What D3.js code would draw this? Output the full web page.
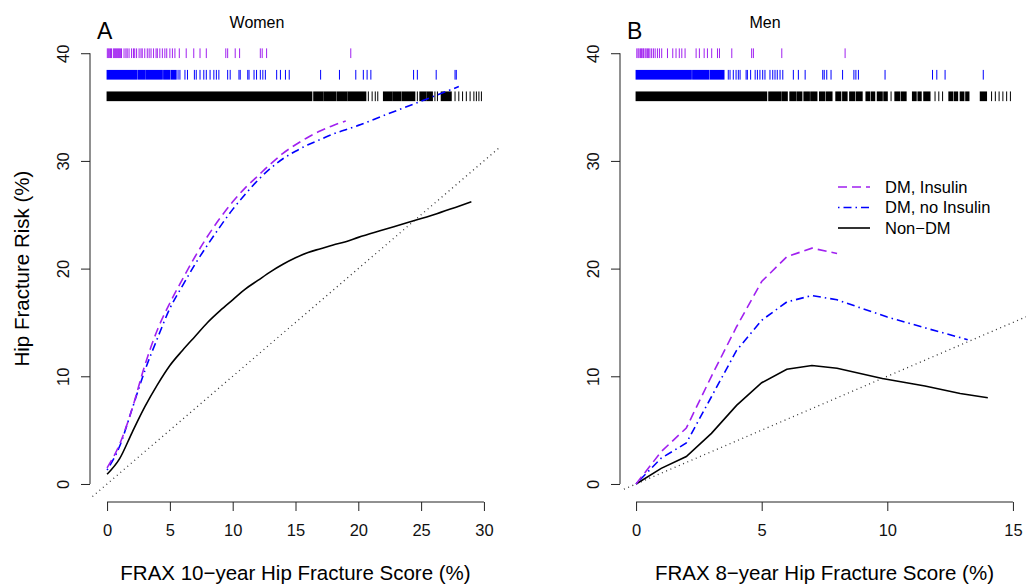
<!DOCTYPE html>
<html>
<head>
<meta charset="utf-8">
<script src="https://cdn.jsdelivr.net/npm/d3@7"></script>
<style>
    body { margin: 0; background: #fff; }
    svg { font-family: "Liberation Sans", Arial, sans-serif; }
    .axis text { font-size: 16.5px; fill: #111; }
    .axis path, .axis line { stroke: #222; }
</style>
</head>
<body>
<div class="graph"></div>
<script>
// ---- data ----
// panel A: women, x = FRAX 10-year score
const womenX = [0, 1, 2, 3, 4, 5, 6, 7, 8, 9, 10, 11, 12, 13, 14, 15, 16, 17, 18, 19, 20, 22, 24, 26, 28, 29];
const womenInsulin = [1.5, 3.7, 7.0, 11.0, 14.3, 16.8, 19.0, 21.1, 23.0, 24.7, 26.2, 27.5, 28.6, 29.7, 30.7, 31.5, 32.2, 32.8, 33.3, 33.7];
const womenNoInsulin = [1.3, 3.5, 7.0, 10.5, 13.5, 16.3, 18.4, 20.4, 22.2, 23.9, 25.5, 26.9, 28.2, 29.3, 30.2, 30.9, 31.5, 32.0, 32.5, 32.9, 33.3, 34.2, 35.1, 36.0, 36.9];
const womenNonDm = [0.9, 2.35, 4.8, 7.15, 9.2, 11.0, 12.4, 13.7, 15.0, 16.1, 17.1, 18.1, 18.9, 19.7, 20.4, 21.0, 21.5, 21.85, 22.2, 22.5, 22.9, 23.6, 24.3, 25.0, 25.8, 26.2];
// panel B: men, x = FRAX 8-year score
const menX = [0, 1, 2, 3, 4, 5, 6, 7, 8, 10, 11.5, 13.2, 14];
const menInsulin = [0, 3.0, 5.2, 10.0, 14.6, 18.8, 21.1, 21.9, 21.4];
const menNoInsulin = [0, 2.4, 3.8, 8.1, 12.4, 15.2, 16.9, 17.5, 17.1, 15.5, 14.5, 13.4];
const menNonDm = [0, 1.45, 2.55, 4.7, 7.3, 9.4, 10.65, 11.0, 10.75, 9.8, 9.1, 8.4, 8.0];
const menNonDmX = [0, 1, 2, 3, 4, 5, 6, 7, 8, 9.8, 11.5, 12.9, 14];

// rug marks (observed scores); bands are stretches so dense they print solid
const rugWomenInsulin = [0.02, 0.1, 0.18, 0.27, 0.35, 0.5, 0.58, 0.66, 0.74, 0.82, 0.9, 0.98, 1.06, 1.15, 1.35, 1.5, 1.6, 1.75, 1.95, 2.1, 2.2, 2.35, 2.55, 2.7, 2.8, 3.0, 3.2, 3.35, 3.5, 3.7, 3.9, 4.0, 4.2, 4.4, 4.6, 4.75, 5.0, 5.2, 5.4, 5.75, 6.3, 6.9, 7.4, 7.9, 9.45, 9.6, 10.2, 10.55, 12.2, 12.35, 12.7, 19.4];
const rugWomenNoInsulinBands = [[0, 2.35], [2.45, 3.0], [3.08, 4.4], [4.5, 5.0], [5.1, 5.5]];
const rugWomenNoInsulin = [5.65, 5.8, 6.2, 6.4, 6.95, 7.1, 7.4, 7.7, 7.9, 8.2, 8.5, 8.7, 8.9, 9.6, 9.8, 10.5, 10.6, 11.2, 11.3, 11.7, 11.9, 12.2, 12.4, 12.6, 13.5, 13.8, 14.2, 14.5, 17.0, 18.5, 19.8, 20.4, 20.7, 21.0, 24.4, 24.7, 26.2, 27.7, 27.8];
const rugWomenNonDmBands = [[0, 16.3], [16.45, 17.2], [17.28, 18.2], [18.3, 19.1], [19.18, 20.6], [22.0, 22.7], [22.78, 23.4], [23.5, 24.5], [24.9, 25.4], [25.48, 25.9], [26.6, 27.4]];
const rugWomenNonDm = [20.8, 21.1, 21.35, 21.55, 24.7, 26.1, 26.3, 27.7, 28.0, 28.3, 28.6, 28.9, 29.2, 29.4, 29.6, 29.8];

const rugMenInsulin = [0.03, 0.08, 0.12, 0.18, 0.22, 0.27, 0.3, 0.36, 0.4, 0.45, 0.5, 0.55, 0.62, 0.69, 0.76, 0.85, 0.93, 1.02, 1.25, 1.46, 1.59, 1.72, 1.82, 1.95, 2.39, 2.52, 2.71, 2.84, 3.01, 3.24, 3.32, 3.81, 4.6, 4.67, 5.8, 8.32];
const rugMenNoInsulinBands = [[0, 2.2], [2.25, 2.9], [2.95, 3.5]];
const rugMenNoInsulin = [3.67, 3.74, 3.87, 3.98, 4.07, 4.14, 4.38, 4.43, 4.56, 4.74, 4.83, 4.93, 5.04, 5.13, 5.33, 5.44, 5.53, 5.62, 5.73, 5.84, 6.26, 6.46, 6.73, 7.43, 7.49, 7.59, 7.76, 8.22, 8.67, 8.75, 8.85, 9.91, 11.8, 11.97, 12.3, 13.82];
const rugMenNonDmBands = [[0, 5.2], [5.28, 5.75], [5.8, 6.02], [6.12, 6.35], [6.4, 6.6], [6.68, 6.9], [6.95, 7.2], [7.3, 7.5], [7.56, 7.8], [7.95, 8.15], [8.22, 8.4], [8.5, 8.7], [8.76, 9.0], [9.15, 9.3], [9.36, 9.5], [9.6, 9.8], [9.86, 10.0], [10.3, 10.5], [10.56, 10.75], [11.0, 11.15], [11.22, 11.35], [11.45, 11.7], [12.45, 12.6], [12.66, 12.8], [12.9, 13.05], [13.12, 13.25], [13.7, 13.95]];
const rugMenNonDm = [10.15, 11.9, 12.05, 12.2, 14.15, 14.3, 14.45, 14.6, 14.75, 14.9];

const yTicks = [0, 10, 20, 30, 40];
const womenXTicks = [0, 5, 10, 15, 20, 25, 30];
const menXTicks = [0, 5, 10, 15];
const seriesNames = ["DM, Insulin", "DM, no Insulin", "Non\u2212DM"];

(function () {
    const width = 1026, height = 587;
    const purple = "#a020f0", blue = "#0000ff", black = "#000";
    const dashInsulin = "9,5", dashNoInsulin = "1.5,4,8,4";

    const svg = d3.select(".graph").append("svg")
        .attr("width", width)
        .attr("height", height);

    const y = d3.scaleLinear().domain([-1.6, 41.6]).range([501.2, 36]);

    function panel(opt) {
        const x = d3.scaleLinear().domain(opt.xDomain).range(opt.xRange);
        const g = svg.append("g");
        const clipId = "clip" + opt.letter;
        svg.append("clipPath").attr("id", clipId)
            .append("rect")
            .attr("x", opt.xRange[0]).attr("y", 36)
            .attr("width", opt.xRange[1] - opt.xRange[0]).attr("height", 465.2);

        // x axis
        const xMax = opt.xTicks[opt.xTicks.length - 1];
        const gx = g.append("g").attr("class", "axis")
            .attr("transform", "translate(0,502)")
            .call(d3.axisBottom(x).tickValues(opt.xTicks).tickSize(9).tickSizeOuter(0).tickPadding(13));
        gx.select(".domain").attr("d", "M" + x(0) + ",0H" + x(xMax));

        // y axis
        const gy = g.append("g").attr("class", "axis")
            .attr("transform", "translate(" + opt.yAxisX + ",0)")
            .call(d3.axisLeft(y).tickValues(yTicks).tickSize(9).tickSizeOuter(0));
        gy.select(".domain").attr("d", "M0," + y(0) + "V" + y(40));
        gy.selectAll(".tick text")
            .attr("x", null).attr("dy", null)
            .attr("text-anchor", "middle")
            .attr("transform", "translate(-21,0) rotate(-90)");

        // identity reference line
        g.append("line")
            .attr("clip-path", "url(#" + clipId + ")")
            .attr("x1", x(-2)).attr("y1", y(-2))
            .attr("x2", x(45)).attr("y2", y(45))
            .attr("stroke", "#333").attr("stroke-width", 1.3)
            .attr("stroke-dasharray", "1,3.6");

        // rugs
        function rug(values, bands, level, color) {
            const rg = g.append("g");
            rg.selectAll("rect").data(bands).enter().append("rect")
                .attr("x", d => x(d[0]) - 0.5)
                .attr("width", d => x(d[1]) - x(d[0]) + 1)
                .attr("y", y(level + 0.45))
                .attr("height", y(level - 0.45) - y(level + 0.45))
                .attr("fill", color);
            rg.selectAll("line").data(values).enter().append("line")
                .attr("x1", d => x(d)).attr("x2", d => x(d))
                .attr("y1", y(level + 0.45)).attr("y2", y(level - 0.45))
                .attr("stroke", color).attr("stroke-width", 1);
        }
        rug(opt.rugInsulin, [], 40, purple);
        rug(opt.rugNoInsulin, opt.rugNoInsulinBands, 38, blue);
        rug(opt.rugNonDm, opt.rugNonDmBands, 36, black);

        // fitted curves
        const line = d3.line().x(d => x(d[0])).y(d => y(d[1])).curve(opt.curve);
        function curve(xs, ys, color, dash, w) {
            g.append("path")
                .datum(ys.map((v, i) => [xs[i], v]))
                .attr("d", line)
                .attr("fill", "none")
                .attr("stroke", color)
                .attr("stroke-width", w)
                .attr("stroke-dasharray", dash);
        }
        curve(opt.nonDmX, opt.nonDm, black, null, 1.6);
        curve(opt.xs, opt.noInsulin, blue, dashNoInsulin, 1.6);
        curve(opt.xs, opt.insulin, purple, dashInsulin, 1.6);

        // titles
        g.append("text").attr("x", opt.titleX).attr("y", 28)
            .attr("text-anchor", "middle").style("font-size", "16px")
            .text(opt.title);
        g.append("text").attr("x", opt.letterX).attr("y", 39)
            .style("font-size", "23px").text(opt.letter);
        g.append("text").attr("x", (x(0) + x(xMax)) / 2).attr("y", 580)
            .attr("text-anchor", "middle").style("font-size", "20.5px")
            .text(opt.xLabel);
        return x;
    }

    panel({
        letter: "A", letterX: 97, title: "Women", titleX: 257,
        xDomain: [-1.2, 31.2], xRange: [92, 499], yAxisX: 90, xTicks: womenXTicks,
        xLabel: "FRAX 10\u2212year Hip Fracture Score (%)",
        curve: d3.curveMonotoneX,
        xs: womenX, nonDmX: womenX,
        insulin: womenInsulin, noInsulin: womenNoInsulin, nonDm: womenNonDm,
        rugInsulin: rugWomenInsulin,
        rugNoInsulin: rugWomenNoInsulin, rugNoInsulinBands: rugWomenNoInsulinBands,
        rugNonDm: rugWomenNonDm, rugNonDmBands: rugWomenNonDmBands
    });

    panel({
        letter: "B", letterX: 627, title: "Men", titleX: 765,
        xDomain: [-0.6, 15.6], xRange: [621, 1028], yAxisX: 620, xTicks: menXTicks,
        xLabel: "FRAX 8\u2212year Hip Fracture Score (%)",
        curve: d3.curveLinear,
        xs: menX, nonDmX: menNonDmX,
        insulin: menInsulin, noInsulin: menNoInsulin, nonDm: menNonDm,
        rugInsulin: rugMenInsulin,
        rugNoInsulin: rugMenNoInsulin, rugNoInsulinBands: rugMenNoInsulinBands,
        rugNonDm: rugMenNonDm, rugNonDmBands: rugMenNonDmBands
    });

    // y axis title (panel A only)
    svg.append("text")
        .attr("transform", "translate(29," + y(20) + ") rotate(-90)")
        .attr("text-anchor", "middle").style("font-size", "20.5px")
        .text("Hip Fracture Risk (%)");

    // legend
    const legend = svg.append("g").attr("transform", "translate(838,187)");
    const styles = [[purple, dashInsulin], [blue, dashNoInsulin], [black, null]];
    seriesNames.forEach(function (name, i) {
        const row = legend.append("g").attr("transform", "translate(0," + (i * 20.5) + ")");
        row.append("line").attr("x1", 0).attr("x2", 32)
            .attr("stroke", styles[i][0]).attr("stroke-width", 1.6)
            .attr("stroke-dasharray", styles[i][1]);
        row.append("text").attr("x", 47).attr("dy", "0.35em")
            .style("font-size", "16.5px").text(name);
    });
})();
</script>
</body>
</html>
